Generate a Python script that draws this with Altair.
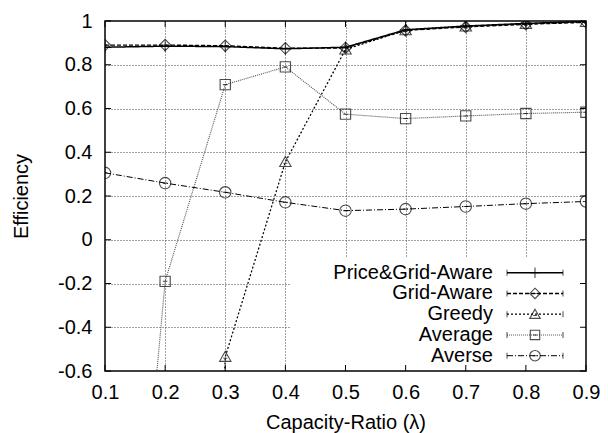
import altair as alt
import pandas as pd

x_vals = [0.1, 0.2, 0.3, 0.4, 0.5, 0.6, 0.7, 0.8, 0.9]
series_names = ["Price&Grid-Aware", "Grid-Aware", "Greedy", "Average", "Averse"]
price_grid = [0.88, 0.885, 0.883, 0.873, 0.88, 0.96, 0.977, 0.989, 0.998]
grid_aware = [0.89, 0.89, 0.887, 0.875, 0.877, 0.957, 0.973, 0.985, 0.994]
greedy = [-10.0, -8.0, -0.535, 0.356, 0.87, 0.958, 0.975, 0.987, 0.996]
average = [-3.2, -0.19, 0.709, 0.79, 0.574, 0.554, 0.566, 0.577, 0.583]
averse = [0.306, 0.259, 0.217, 0.171, 0.133, 0.14, 0.152, 0.165, 0.175]

x_ticks = [0.1, 0.2, 0.3, 0.4, 0.5, 0.6, 0.7, 0.8, 0.9]
y_ticks = [-0.6, -0.4, -0.2, 0, 0.2, 0.4, 0.6, 0.8, 1]

rows = []
for name, vals in zip(series_names, [price_grid, grid_aware, greedy, average, averse]):
    for xv, yv in zip(x_vals, vals):
        rows.append({"x": xv, "y": yv, "series": name})
df = pd.DataFrame(rows)
leg = pd.DataFrame({"series": series_names})
xt_df = pd.DataFrame({"x": x_ticks})
yt_df = pd.DataFrame({"y": y_ticks})

shape_paths = [
    "M-1,0H1M0,-1V1",
    "M0,-1L1,0L0,1L-1,0ZM-0.35,0H0.35",
    "M0,-0.95L1,0.8H-1ZM-0.35,0.25H0.35",
    "M-0.9,-0.9H0.9V0.9H-0.9ZM-0.4,0H0.4",
    "M-1,0A1,1 0 1,1 1,0A1,1 0 1,1 -1,0M-0.4,0H0.4",
]
dashes = [[1, 0], [4, 2], [2, 2], [1, 1], [6, 2, 1, 2]]
colors = ["#000000", "#000000", "#000000", "#555555", "#000000"]
widths = [1.5, 1.0, 1.3, 1.0, 1.0]

color_s = alt.Scale(domain=series_names, range=colors)
dash_s = alt.Scale(domain=series_names, range=dashes)
shape_s = alt.Scale(domain=series_names, range=shape_paths)
width_s = alt.Scale(domain=series_names, range=widths)

fmt = "datum.value == 0 ? '0' : (datum.value == 1 ? '1' : replace(format(datum.value, '.1f'), '\u2212', '-'))"
X = alt.X("x:Q", scale=alt.Scale(domain=[0.1, 0.9], nice=False),
          axis=alt.Axis(values=x_ticks, title="Capacity-Ratio (λ)", format=".1f",
                        labelFlush=False, labelPadding=11, titlePadding=10))
Y = alt.Y("y:Q", scale=alt.Scale(domain=[-0.6, 1], nice=False),
          axis=alt.Axis(values=y_ticks, title="Efficiency", labelExpr=fmt,
                        labelPadding=13, titlePadding=26))

base = alt.Chart(df)
lines = base.mark_line(clip=True).encode(
    x=X, y=Y,
    detail="series:N",
    color=alt.Color("series:N", scale=color_s, legend=None),
    strokeDash=alt.StrokeDash("series:N", scale=dash_s, legend=None),
    strokeWidth=alt.StrokeWidth("series:N", scale=width_s, legend=None),
)
points = base.mark_point(clip=True, filled=False, size=130, strokeWidth=1.1, color="black").encode(
    x=X, y=Y,
    shape=alt.Shape("series:N", scale=shape_s, legend=None),
)
data_layer = alt.layer(lines, points)

LY = alt.Y("series:N", scale=alt.Scale(domain=series_names, type="point", range=[251.7, 334.7], padding=0), axis=None)
bg = alt.Chart(leg).mark_rect(color="white").encode(
    x=alt.value(186), x2=alt.value(480), y=alt.value(236), y2=alt.value(349)
)
ltext = alt.Chart(leg).mark_text(align="right", baseline="middle", fontSize=20, font="Liberation Sans").encode(
    x=alt.value(388), y=LY, text="series:N"
)
lline = alt.Chart(leg).mark_rule().encode(
    x=alt.value(402), x2=alt.value(458), y=LY,
    color=alt.Color("series:N", scale=color_s, legend=None),
    strokeDash=alt.StrokeDash("series:N", scale=dash_s, legend=None),
    strokeWidth=alt.StrokeWidth("series:N", scale=width_s, legend=None),
)
lcapl = alt.Chart(leg).mark_tick(orient="vertical", size=6, thickness=1, color="black").encode(
    x=alt.value(402), y=LY
)
lcapr = alt.Chart(leg).mark_tick(orient="vertical", size=6, thickness=1, color="black").encode(
    x=alt.value(458), y=LY
)
lpt = alt.Chart(leg).mark_point(filled=False, size=110, strokeWidth=1.1, color="black").encode(
    x=alt.value(430), y=LY,
    shape=alt.Shape("series:N", scale=shape_s, legend=None),
)
legend_layer = alt.layer(bg, lline, lcapl, lcapr, lpt, ltext)

# inward ticks on all four sides of the frame (gnuplot style)
TY = alt.Y("y:Q", scale=alt.Scale(domain=[-0.6, 1], nice=False), axis=None)
bt = alt.Chart(xt_df).mark_rule(color="black", strokeWidth=1).encode(
    x=alt.X("x:Q"), y=alt.value(350), y2=alt.value(344))
tt = alt.Chart(xt_df).mark_rule(color="black", strokeWidth=1).encode(
    x=alt.X("x:Q"), y=alt.value(0), y2=alt.value(6))
lt = alt.Chart(yt_df).mark_rule(color="black", strokeWidth=1).encode(
    y=TY, x=alt.value(0), x2=alt.value(6))
rt = alt.Chart(yt_df).mark_rule(color="black", strokeWidth=1).encode(
    y=TY, x=alt.value(481), x2=alt.value(475))
tick_layer = alt.layer(bt, tt, lt, rt)

chart = alt.layer(data_layer, legend_layer, tick_layer).resolve_scale(y="independent").properties(
    width=481, height=350,
    autosize=alt.AutoSizeParams(type="none"),
    padding={"left": 97, "top": 13, "right": 14, "bottom": 62},
).configure_view(
    stroke="black", strokeWidth=1.5
).configure_axis(
    labelFont="Liberation Sans", titleFont="Liberation Sans",
    labelFontSize=20, titleFontSize=20, titleFontWeight="normal",
    labelColor="black", titleColor="black",
    grid=True, gridColor="#444444", gridDash=[1, 2], gridWidth=1,
    domain=False, tickSize=0,
)

chart.save("out.html", embed_options={"renderer": "svg", "actions": False})
